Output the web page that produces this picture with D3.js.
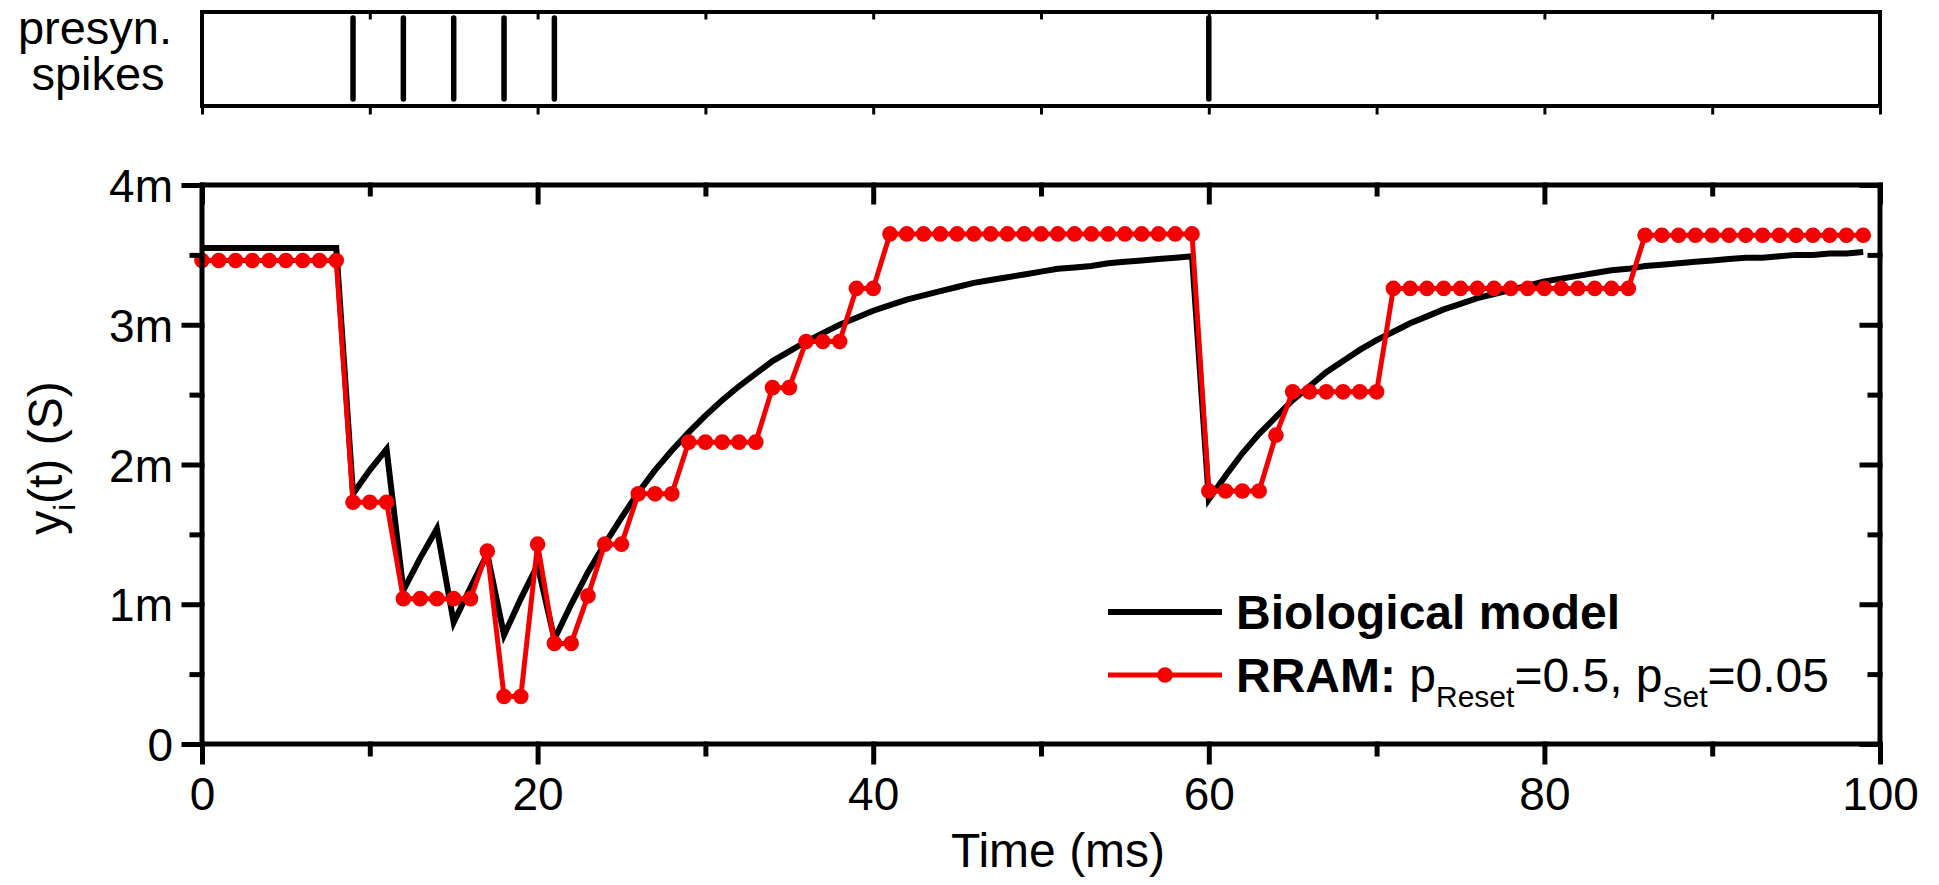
<!DOCTYPE html>
<html>
<head>
<meta charset="utf-8">
<script src="https://cdn.jsdelivr.net/npm/d3@7"></script>
<style>
  body { margin: 0; background: #fff; }
  svg { display: block; font-family: "Liberation Sans", Arial, sans-serif; }
  .axis path.domain { display: none; }
  .axis line { stroke: #000; stroke-linecap: square; }
  .axis text { fill: #000; font-size: 46px; font-family: "Liberation Sans", Arial, sans-serif; }
</style>
</head>
<body>
<svg width="1939" height="885"></svg>
<script>
// time grid (ms), one sample per ms
const times = d3.range(0, 100);

// presynaptic spike times (ms)
const spikeTimes = [9, 12, 15, 18, 21, 60];

// biological model, y_i(t) in mS
const bioValues = [
  3.55, 3.55, 3.55, 3.55, 3.55, 3.55, 3.55, 3.55, 3.55, 1.79,
  1.96, 2.11, 1.10, 1.33, 1.54, 0.87, 1.12, 1.36, 0.78, 1.04,
  1.28, 0.75, 1.00, 1.23, 1.43, 1.62, 1.80, 1.96, 2.10, 2.23,
  2.35, 2.46, 2.56, 2.65, 2.74, 2.81, 2.88, 2.94, 3.00, 3.05,
  3.10, 3.14, 3.18, 3.21, 3.24, 3.27, 3.30, 3.32, 3.34, 3.36,
  3.38, 3.40, 3.41, 3.42, 3.44, 3.45, 3.46, 3.47, 3.48, 3.49,
  1.75, 1.92, 2.08, 2.22, 2.34, 2.46, 2.56, 2.66, 2.74, 2.82,
  2.89, 2.95, 3.01, 3.06, 3.11, 3.15, 3.19, 3.22, 3.25, 3.28,
  3.31, 3.33, 3.35, 3.37, 3.39, 3.40, 3.42, 3.43, 3.44, 3.45,
  3.46, 3.47, 3.48, 3.48, 3.49, 3.50, 3.50, 3.51, 3.51, 3.52
];

// RRAM synapse, y_i(t) in mS
const rramValues = [
  3.46, 3.46, 3.46, 3.46, 3.46, 3.46, 3.46, 3.46, 3.46, 1.73,
  1.73, 1.73, 1.04, 1.04, 1.04, 1.04, 1.04, 1.38, 0.34, 0.34,
  1.43, 0.72, 0.72, 1.06, 1.43, 1.43, 1.79, 1.79, 1.79, 2.16,
  2.16, 2.16, 2.16, 2.16, 2.55, 2.55, 2.88, 2.88, 2.88, 3.26,
  3.26, 3.65, 3.65, 3.65, 3.65, 3.65, 3.65, 3.65, 3.65, 3.65,
  3.65, 3.65, 3.65, 3.65, 3.65, 3.65, 3.65, 3.65, 3.65, 3.65,
  1.81, 1.81, 1.81, 1.81, 2.21, 2.52, 2.52, 2.52, 2.52, 2.52,
  2.52, 3.26, 3.26, 3.26, 3.26, 3.26, 3.26, 3.26, 3.26, 3.26,
  3.26, 3.26, 3.26, 3.26, 3.26, 3.26, 3.64, 3.64, 3.64, 3.64,
  3.64, 3.64, 3.64, 3.64, 3.64, 3.64, 3.64, 3.64, 3.64, 3.64
];

const xMajor = [0, 20, 40, 60, 80, 100];
const xMinor = [10, 30, 50, 70, 90];
const yMajor = [0, 1, 2, 3, 4];
const yMinor = [0.5, 1.5, 2.5, 3.5];

const PLOT = { left: 202, right: 1880, top: 185, bottom: 744 };
const SPK = { top: 12, bottom: 106 };
const RED = '#f40000';

const svg = d3.select('svg');

const x = d3.scaleLinear().domain([0, 100]).range([PLOT.left, PLOT.right]);
const y = d3.scaleLinear().domain([0, 4]).range([PLOT.bottom, PLOT.top]);

// ---------- spike raster panel ----------
const spk = svg.append('g');

spk.selectAll('.spike')
  .data(spikeTimes)
  .enter()
  .append('line')
  .attr('x1', (d) => x(d))
  .attr('x2', (d) => x(d))
  .attr('y1', SPK.top + 6)
  .attr('y2', SPK.bottom - 7)
  .attr('stroke', '#000')
  .attr('stroke-width', 5.5)
  .attr('stroke-linecap', 'round');

spk.append('g')
  .attr('class', 'axis')
  .attr('transform', `translate(0,${SPK.bottom})`)
  .call(d3.axisBottom(x).tickValues(xMajor.concat(xMinor)).tickSize(7).tickFormat(''))
  .selectAll('line').attr('stroke-width', 3);

spk.append('g')
  .attr('class', 'axis')
  .attr('transform', `translate(0,${SPK.top})`)
  .call(d3.axisTop(x).tickValues(xMinor.concat([20, 40, 60, 80])).tickSize(-6).tickFormat(''))
  .selectAll('line').attr('stroke-width', 3);

spk.append('rect')
  .attr('x', PLOT.left)
  .attr('y', SPK.top)
  .attr('width', PLOT.right - PLOT.left)
  .attr('height', SPK.bottom - SPK.top)
  .attr('fill', 'none')
  .attr('stroke', '#000')
  .attr('stroke-width', 4);

spk.append('text')
  .attr('x', 95)
  .attr('y', 44)
  .attr('text-anchor', 'middle')
  .attr('font-size', 47)
  .text('presyn.');

spk.append('text')
  .attr('x', 98)
  .attr('y', 90)
  .attr('text-anchor', 'middle')
  .attr('font-size', 47)
  .text('spikes');

// ---------- main panel ----------
const main = svg.append('g');

const valueLine = d3.line()
  .x((d, i) => x(times[i]))
  .y((d) => y(d));

main.append('path')
  .datum(bioValues)
  .attr('d', valueLine)
  .attr('fill', 'none')
  .attr('stroke', '#000')
  .attr('stroke-width', 6)
  .attr('stroke-linejoin', 'miter');

main.append('path')
  .datum(rramValues)
  .attr('d', valueLine)
  .attr('fill', 'none')
  .attr('stroke', RED)
  .attr('stroke-width', 5);

main.selectAll('.dot')
  .data(rramValues)
  .enter()
  .append('circle')
  .attr('class', 'dot')
  .attr('cx', (d, i) => x(times[i]))
  .attr('cy', (d) => y(d))
  .attr('r', 7.8)
  .attr('fill', RED);

// axes
function styleAxis(g, w) {
  g.selectAll('line').attr('stroke-width', w);
}

const gx = main.append('g')
  .attr('class', 'axis')
  .attr('transform', `translate(0,${PLOT.bottom})`)
  .call(d3.axisBottom(x).tickValues(xMajor).tickSize(18).tickFormat(d3.format('d')));
gx.selectAll('text').attr('y', 66).attr('dy', 0);
styleAxis(gx, 5);

styleAxis(main.append('g')
  .attr('class', 'axis')
  .attr('transform', `translate(0,${PLOT.bottom})`)
  .call(d3.axisBottom(x).tickValues(xMinor).tickSize(10).tickFormat('')), 5);

styleAxis(main.append('g')
  .attr('class', 'axis')
  .attr('transform', `translate(0,${PLOT.top})`)
  .call(d3.axisTop(x).tickValues(xMajor).tickSize(-17).tickFormat('')), 5);

styleAxis(main.append('g')
  .attr('class', 'axis')
  .attr('transform', `translate(0,${PLOT.top})`)
  .call(d3.axisTop(x).tickValues(xMinor).tickSize(-9).tickFormat('')), 5);

const gy = main.append('g')
  .attr('class', 'axis')
  .attr('transform', `translate(${PLOT.left},0)`)
  .call(d3.axisLeft(y).tickValues(yMajor).tickSize(18).tickFormat((d) => (d === 0 ? '0' : d + 'm')));
gy.selectAll('text').attr('x', -29).attr('dy', '0.36em');
styleAxis(gy, 5);

styleAxis(main.append('g')
  .attr('class', 'axis')
  .attr('transform', `translate(${PLOT.left},0)`)
  .call(d3.axisLeft(y).tickValues(yMinor).tickSize(10).tickFormat('')), 5);

styleAxis(main.append('g')
  .attr('class', 'axis')
  .attr('transform', `translate(${PLOT.right},0)`)
  .call(d3.axisRight(y).tickValues(yMajor).tickSize(-18).tickFormat('')), 5);

styleAxis(main.append('g')
  .attr('class', 'axis')
  .attr('transform', `translate(${PLOT.right},0)`)
  .call(d3.axisRight(y).tickValues(yMinor).tickSize(-10).tickFormat('')), 5);

main.append('rect')
  .attr('x', PLOT.left)
  .attr('y', PLOT.top)
  .attr('width', PLOT.right - PLOT.left)
  .attr('height', PLOT.bottom - PLOT.top)
  .attr('fill', 'none')
  .attr('stroke', '#000')
  .attr('stroke-width', 5);

// axis titles
main.append('text')
  .attr('x', 1058)
  .attr('y', 867)
  .attr('text-anchor', 'middle')
  .attr('font-size', 48)
  .text('Time (ms)');

const ylab = main.append('text')
  .attr('transform', 'translate(62,458) rotate(-90)')
  .attr('text-anchor', 'middle')
  .attr('font-size', 48);
ylab.append('tspan').text('y');
ylab.append('tspan').attr('font-size', 30).attr('dy', 13).text('i');
ylab.append('tspan').attr('dy', -13).text('(t) (S)');

// legend
const legend = main.append('g');

legend.append('line')
  .attr('x1', 1108).attr('x2', 1222)
  .attr('y1', 612).attr('y2', 612)
  .attr('stroke', '#000')
  .attr('stroke-width', 6);

legend.append('text')
  .attr('x', 1236)
  .attr('y', 629)
  .attr('font-size', 48)
  .attr('font-weight', 'bold')
  .text('Biological model');

legend.append('line')
  .attr('x1', 1108).attr('x2', 1222)
  .attr('y1', 675).attr('y2', 675)
  .attr('stroke', RED)
  .attr('stroke-width', 5);

legend.append('circle')
  .attr('cx', 1165).attr('cy', 675)
  .attr('r', 7.8)
  .attr('fill', RED);

const rl = legend.append('text')
  .attr('x', 1236)
  .attr('y', 692)
  .attr('font-size', 48);
rl.append('tspan').attr('font-weight', 'bold').text('RRAM:');
rl.append('tspan').text(' p');
rl.append('tspan').attr('font-size', 30).attr('dy', 15).text('Reset');
rl.append('tspan').attr('dy', -15).text('=0.5, p');
rl.append('tspan').attr('font-size', 30).attr('dy', 15).text('Set');
rl.append('tspan').attr('dy', -15).text('=0.05');
</script>
</body>
</html>
